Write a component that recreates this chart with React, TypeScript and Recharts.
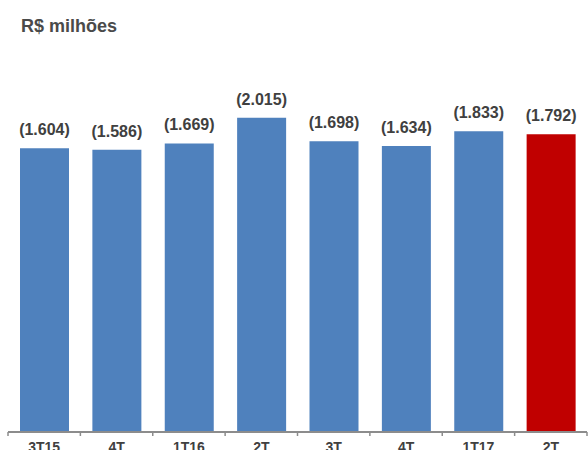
import { BarChart, Bar, XAxis, YAxis, Cell, LabelList } from "recharts";

const quarters = ["3T15", "4T", "1T16", "2T", "3T", "4T", "1T17", "2T"];
const amounts = [1604, 1586, 1669, 2015, 1698, 1634, 1833, 1792];
const highlight = [false, false, false, false, false, false, false, true];

// the source chart does not start its bars at zero; the floor sits well below it
const AXIS_FLOOR = -2213;
const AXIS_TOP = 2200;

const FONT = '"Liberation Sans", Arial, Helvetica, sans-serif';
const BLUE = "#4f81bd";
const RED = "#c00000";
const TEXT = "#404040";

const CHART_W = 588;
const MARGIN = { top: 104, right: 1, bottom: 0, left: 8 };
const BAND = (CHART_W - MARGIN.left - MARGIN.right) / quarters.length;

const data = quarters.map((q, i) => ({
  q,
  value: amounts[i],
  red: highlight[i],
}));

const fmt = (v: number | string) => `(${(Number(v) / 1000).toFixed(3)})`;

function QuarterTick(props: any) {
  const { x, y, payload, index } = props;
  const last = index === quarters.length - 1;
  return (
    <g>
      <line x1={x - BAND / 2} x2={x - BAND / 2} y1={y} y2={y + 4} stroke="#8c8c8c" strokeWidth={1.5} />
      {last && (
        <line x1={x + BAND / 2} x2={x + BAND / 2} y1={y} y2={y + 4} stroke="#8c8c8c" strokeWidth={1.5} />
      )}
      <text
        x={x}
        y={y + 9.7}
        dy="0.71em"
        textAnchor="middle"
        fill={TEXT}
        fontSize={14}
        fontWeight="bold"
        fontFamily={FONT}
      >
        {payload.value}
      </text>
    </g>
  );
}

export default function App() {
  return (
    <div
      style={{
        position: "absolute",
        left: 0,
        top: 0,
        width: CHART_W,
        height: 450,
        background: "#fff",
        overflow: "hidden",
      }}
    >
      <div
        style={{
          position: "absolute",
          left: 21,
          top: 15,
          fontFamily: FONT,
          fontWeight: "bold",
          fontSize: 18,
          color: "#4a4a4a",
          lineHeight: "22px",
        }}
      >
        R$ milhões
      </div>
      <BarChart width={CHART_W} height={450} data={data} margin={MARGIN}>
        <XAxis
          dataKey="q"
          height={18}
          tickLine={false}
          tickSize={0}
          tickMargin={0}
          axisLine={{ stroke: "#8c8c8c", strokeWidth: 2 }}
          tick={<QuarterTick />}
          interval={0}
        />
        <YAxis hide domain={[AXIS_FLOOR, AXIS_TOP]} allowDataOverflow />
        <Bar
          dataKey={(d: any) => [AXIS_FLOOR, d.value]}
          barSize={49}
          isAnimationActive={false}
        >
          {data.map((d, i) => (
            <Cell key={i} fill={d.red ? RED : BLUE} />
          ))}
          <LabelList
            dataKey="value"
            position="top"
            offset={13}
            formatter={fmt}
            fill={TEXT}
            fontSize={16}
            fontWeight="bold"
            fontFamily={FONT}
          />
        </Bar>
      </BarChart>
    </div>
  );
}
